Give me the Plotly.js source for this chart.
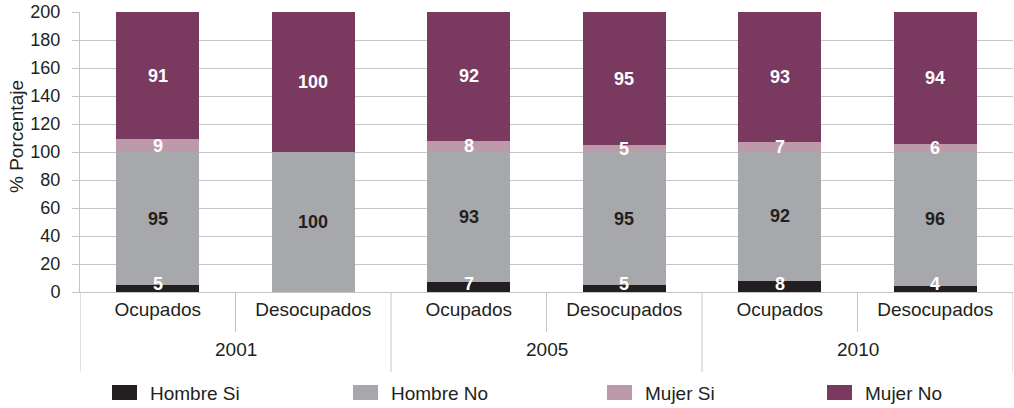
<!DOCTYPE html>
<html>
<head>
<meta charset="utf-8">
<script src="https://cdn.plot.ly/plotly-3.0.1.min.js"></script>
<style>html,body{margin:0;padding:0;background:#fff}#chart{width:1014px;height:408px}</style>
</head>
<body>
<div id="chart"></div>
<script>
// ---- data ----
var categories = ['Ocupados', 'Desocupados', 'Ocupados', 'Desocupados', 'Ocupados', 'Desocupados'];
var years = ['2001', '2005', '2010'];
var seriesNames = ['Hombre Si', 'Hombre No', 'Mujer Si', 'Mujer No'];
var hombreSi = [5, 0, 7, 5, 8, 4];
var hombreNo = [95, 100, 93, 95, 92, 96];
var mujerSi  = [9, 0, 8, 5, 7, 6];
var mujerNo  = [91, 100, 92, 95, 93, 94];
var yTicks = [0, 20, 40, 60, 80, 100, 120, 140, 160, 180, 200];

// ---- styles ----
var colors = ['#231f20', '#a7a8ab', '#bd9aaa', '#7a3a5f'];
var labelColors = ['#ffffff', '#231f20', '#ffffff', '#ffffff'];
var FONT = 'Liberation Sans, Arial, sans-serif';
var TXT = '#231f20';
var GRID = '#c4c4c4';

var series = [hombreSi, hombreNo, mujerSi, mujerNo];
var xs = categories.map(function (c, i) { return i; });

var traces = series.map(function (vals, s) {
  return {
    type: 'bar', x: xs, y: vals, name: seriesNames[s],
    marker: { color: colors[s], line: { width: 0 } },
    hoverinfo: 'name+y', showlegend: false
  };
});

var annotations = [];
// value labels
var base = xs.map(function () { return 0; });
series.forEach(function (vals, s) {
  vals.forEach(function (v, i) {
    if (v > 0) {
      var a = {
        x: xs[i], y: base[i] + v / 2, xref: 'x', yref: 'y',
        text: String(v), showarrow: false,
        font: { family: FONT, size: 18, color: labelColors[s], weight: 'bold' }
      };
      if (s === 0) { a.y = base[i]; a.yanchor = 'bottom'; a.yshift = -4; }
      annotations.push(a);
    }
    base[i] += v;
  });
});
// year group labels
years.forEach(function (yr, g) {
  annotations.push({
    x: 2 * g + 0.5, y: -0.207, xref: 'x', yref: 'paper', yanchor: 'middle',
    text: yr, showarrow: false, font: { family: FONT, size: 19, color: TXT }
  });
});
// y axis title
annotations.push({
  x: (16 - 80) / 933, xref: 'paper', xanchor: 'center', y: (292 - 137) / 280, yref: 'paper', yanchor: 'middle',
  text: '% Porcentaje', textangle: -90, showarrow: false,
  font: { family: FONT, size: 19, color: TXT }
});

var shapes = [];
// dividers
for (var k = 0; k <= categories.length; k++) {
  var isGroup = (k % 2 === 0);
  shapes.push({
    type: 'line', xref: 'x', yref: 'paper', x0: k - 0.5, x1: k - 0.5,
    y0: 0, y1: isGroup ? -80 / 280 : -40 / 280,
    line: { color: GRID, width: 1 }
  });
}
// custom legend
var legendX = [112, 353, 607, 827];
seriesNames.forEach(function (nm, s) {
  var px0 = legendX[s];
  shapes.push({
    type: 'rect', xref: 'paper', yref: 'paper',
    x0: (px0 - 80) / 933, x1: (px0 + 25 - 80) / 933,
    y0: (292 - 385) / 280, y1: (292 - 400) / 280,
    fillcolor: colors[s], line: { width: 0 }
  });
  annotations.push({
    x: (px0 + 36 - 80) / 933, xref: 'paper', xanchor: 'left',
    y: (292 - 393) / 280, yref: 'paper', yanchor: 'middle',
    text: nm, showarrow: false, font: { family: FONT, size: 19, color: TXT }
  });
});

var layout = {
  width: 1014, height: 408,
  margin: { l: 80, r: 1, t: 12, b: 116, pad: 0 },
  paper_bgcolor: '#ffffff', plot_bgcolor: '#ffffff',
  barmode: 'stack', bargap: 0.466,
  font: { family: FONT, color: TXT },
  showlegend: false,
  xaxis: {
    range: [-0.5, categories.length - 0.5], tickvals: xs, ticktext: categories,
    ticks: '', showgrid: false, zeroline: false,
    showline: true, linecolor: GRID, linewidth: 1,
    tickfont: { family: FONT, size: 19, color: TXT }, fixedrange: true
  },
  yaxis: {
    range: [0, 200], tickvals: yTicks, ticks: 'outside', ticklen: 7, tickcolor: GRID,
    showgrid: true, gridcolor: GRID, gridwidth: 1, zeroline: false,
    showline: true, linecolor: GRID, linewidth: 1,
    tickfont: { family: FONT, size: 18, color: TXT }, ticklabelstandoff: 8, fixedrange: true
  },
  shapes: shapes,
  annotations: annotations
};

Plotly.newPlot('chart', traces, layout, { displayModeBar: false, staticPlot: true });
</script>
</body>
</html>
